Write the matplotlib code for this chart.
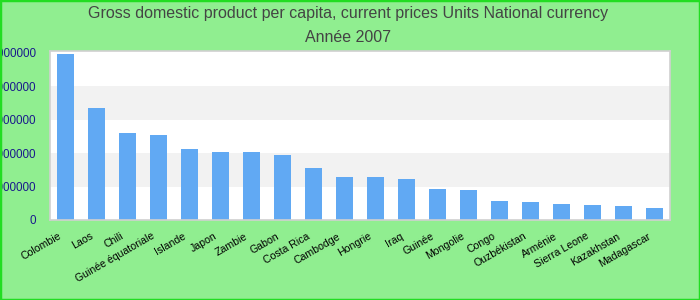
import matplotlib

matplotlib.use("Agg")
import matplotlib.pyplot as plt
from matplotlib.patches import Rectangle
from matplotlib.transforms import ScaledTranslation

# Données (monnaie nationale, 2007)
countries = [
    "Colombie", "Laos", "Chili", "Guinée équatoriale", "Islande", "Japon",
    "Zambie", "Gabon", "Costa Rica", "Cambodge", "Hongrie", "Iraq", "Guinée",
    "Mongolie", "Congo", "Ouzbékistan", "Arménie", "Sierra Leone",
    "Kazakhstan", "Madagascar",
]
gdp_values = [
    9910000, 6690000, 5190000, 5070000, 4240000, 4060000, 4060000, 3880000,
    3100000, 2570000, 2570000, 2450000, 1850000, 1790000, 1130000, 1070000,
    955000, 900000, 840000, 720000,
]
y_ticks = [0, 2000000, 4000000, 6000000, 8000000, 10000000]
title_line1 = "Gross domestic product per capita, current prices Units National currency"
title_line2 = "Année 2007"

plt.rcParams["font.family"] = ["Liberation Sans", "DejaVu Sans"]

fig = plt.figure(figsize=(7, 3), dpi=100)
fig.patch.set_facecolor("#90ee90")
fig.patches.append(
    Rectangle((0, 0), 1, 1, transform=fig.transFigure, fill=False,
              edgecolor="#22dd22", linewidth=2.5, zorder=10)
)

ax = fig.add_axes([50 / 700, 80 / 300, 620 / 700, 169 / 300])
ax.set_facecolor("white")

# bandes alternées grises
for i, (lo, hi) in enumerate(zip(y_ticks[:-1], y_ticks[1:])):
    if i % 2 == 1:
        ax.axhspan(lo, hi, color="#f2f2f2", linewidth=0, zorder=0)

x = range(len(countries))
ax.bar(x, gdp_values, width=0.55, color="#61a9f3", zorder=2)

ax.set_xlim(-0.5, len(countries) - 0.5)
ax.set_ylim(0, 10090000)
ax.set_yticks(y_ticks)
ax.set_yticklabels([str(v) for v in y_ticks], color="#1a1a8c", fontsize=8.4)
ax.set_xticks(list(x))
ax.set_xticklabels(countries, rotation=30, ha="right", rotation_mode="anchor",
                   fontsize=7.6, color="black")
ax.tick_params(axis="both", length=0)
ax.tick_params(axis="y", pad=10)
ax.tick_params(axis="x", pad=8)

shift = ScaledTranslation(-7 / 100, 0, fig.dpi_scale_trans)
for lbl in ax.get_xticklabels():
    lbl.set_transform(lbl.get_transform() + shift)

for spine in ax.spines.values():
    spine.set_color("#d0d0d0")
    spine.set_linewidth(1.2)

fig.text(0.497, 1 - 18 / 300, title_line1, ha="center", va="baseline",
         fontsize=11.5, color="#444444")
fig.text(0.497, 1 - 41.5 / 300, title_line2, ha="center", va="baseline",
         fontsize=11.5, color="#444444")

fig.savefig("out.png", dpi=100, facecolor=fig.get_facecolor())
